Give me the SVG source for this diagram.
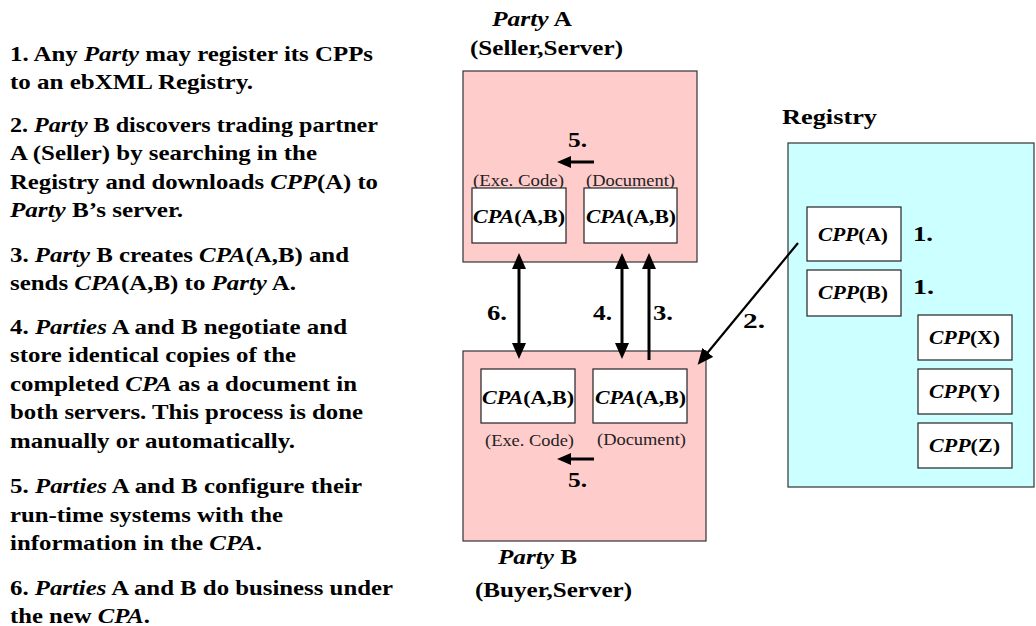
<svg xmlns="http://www.w3.org/2000/svg" width="1036" height="626" viewBox="0 0 1036 626">
<style>
text{font-family:"Liberation Serif","Times New Roman",serif;font-weight:bold;fill:#000}
.i{font-style:italic}
.body{font-size:21px}
.hd{font-size:21px}
.num{font-size:22px}
.cpa{font-size:19px}
.cpp{font-size:18px}
.sm{font-size:16px;font-weight:normal;fill:#222}
.party{fill:#FFCCCC;stroke:#333;stroke-width:1.2}
.reg{fill:#CCFFFF;stroke:#333;stroke-width:1.2}
.box{fill:#fff;stroke:#222;stroke-width:1.2}
.ln{stroke:#000;stroke-width:3;fill:none}
.ln2{stroke:#000;stroke-width:2.2;fill:none}
</style>
<defs>
<marker id="ah" markerUnits="userSpaceOnUse" markerWidth="16" markerHeight="14" refX="6" refY="7" orient="auto-start-reverse" viewBox="0 0 16 14">
<path d="M0,0 L16,7 L0,14 z" fill="#000"/>
</marker>
<marker id="ahs" markerUnits="userSpaceOnUse" markerWidth="14" markerHeight="12" refX="5" refY="6" orient="auto" viewBox="0 0 14 12">
<path d="M0,0 L14,6 L0,12 z" fill="#000"/>
</marker>
</defs>

<g id="steps">
<text class="body" x="10" y="61" textLength="363" lengthAdjust="spacingAndGlyphs">1. Any <tspan class="i">Party</tspan> may register its CPPs</text>
<text class="body" x="10" y="89" textLength="243" lengthAdjust="spacingAndGlyphs">to an ebXML Registry.</text>
<text class="body" x="10" y="132" textLength="368" lengthAdjust="spacingAndGlyphs">2. <tspan class="i">Party</tspan> B discovers trading partner</text>
<text class="body" x="10" y="160" textLength="307" lengthAdjust="spacingAndGlyphs">A (Seller) by searching in the</text>
<text class="body" x="10" y="189" textLength="368" lengthAdjust="spacingAndGlyphs">Registry and downloads <tspan class="i">CPP</tspan>(A) to</text>
<text class="body" x="10" y="217" textLength="173" lengthAdjust="spacingAndGlyphs"><tspan class="i">Party</tspan> B’s server.</text>
<text class="body" x="10" y="262" textLength="339" lengthAdjust="spacingAndGlyphs">3. <tspan class="i">Party</tspan> B creates <tspan class="i">CPA</tspan>(A,B) and</text>
<text class="body" x="10" y="290" textLength="286" lengthAdjust="spacingAndGlyphs">sends <tspan class="i">CPA</tspan>(A,B) to <tspan class="i">Party</tspan> A.</text>
<text class="body" x="10" y="334" textLength="337" lengthAdjust="spacingAndGlyphs">4. <tspan class="i">Parties</tspan> A and B negotiate and</text>
<text class="body" x="10" y="362" textLength="286" lengthAdjust="spacingAndGlyphs">store identical copies of the</text>
<text class="body" x="10" y="391" textLength="347" lengthAdjust="spacingAndGlyphs">completed <tspan class="i">CPA</tspan> as a document in</text>
<text class="body" x="10" y="419" textLength="353" lengthAdjust="spacingAndGlyphs">both servers. This process is done</text>
<text class="body" x="10" y="448" textLength="285" lengthAdjust="spacingAndGlyphs">manually or automatically.</text>
<text class="body" x="10" y="493" textLength="352" lengthAdjust="spacingAndGlyphs">5. <tspan class="i">Parties</tspan> A and B configure their</text>
<text class="body" x="10" y="522" textLength="273" lengthAdjust="spacingAndGlyphs">run-time systems with the</text>
<text class="body" x="10" y="550" textLength="252" lengthAdjust="spacingAndGlyphs">information in the <tspan class="i">CPA</tspan>.</text>
<text class="body" x="10" y="595" textLength="383" lengthAdjust="spacingAndGlyphs">6. <tspan class="i">Parties</tspan> A and B do business under</text>
<text class="body" x="10" y="623" textLength="140" lengthAdjust="spacingAndGlyphs">the new <tspan class="i">CPA</tspan>.</text>
</g>

<g id="partyA">
<text class="hd" x="492" y="26" textLength="80" lengthAdjust="spacingAndGlyphs"><tspan class="i">Party</tspan> A</text>
<text class="hd" x="470" y="55" textLength="153" lengthAdjust="spacingAndGlyphs">(Seller,Server)</text>
<rect class="party" x="463" y="71" width="234" height="191"/>
<text class="sm" x="473" y="186" textLength="91" lengthAdjust="spacingAndGlyphs">(Exe. Code)</text>
<text class="sm" x="586" y="186" textLength="89" lengthAdjust="spacingAndGlyphs">(Document)</text>
<g id="cpaA-exe">
<rect class="box" x="472" y="188" width="94" height="55"/>
<text class="cpa" x="473" y="223" textLength="92" lengthAdjust="spacingAndGlyphs"><tspan class="i">CPA</tspan>(A,B)</text>
</g>
<g id="cpaA-doc">
<rect class="box" x="584" y="188" width="93" height="55"/>
<text class="cpa" x="586" y="223" textLength="90" lengthAdjust="spacingAndGlyphs"><tspan class="i">CPA</tspan>(A,B)</text>
</g>
<text class="num" x="568" y="147" textLength="19" lengthAdjust="spacingAndGlyphs">5.</text>
</g>

<g id="partyB">
<rect class="party" x="463" y="351" width="243" height="190"/>
<g id="cpaB-exe">
<rect class="box" x="481" y="369" width="94" height="54"/>
<text class="cpa" x="482" y="404" textLength="92" lengthAdjust="spacingAndGlyphs"><tspan class="i">CPA</tspan>(A,B)</text>
</g>
<g id="cpaB-doc">
<rect class="box" x="593" y="369" width="94" height="54"/>
<text class="cpa" x="595" y="404" textLength="91" lengthAdjust="spacingAndGlyphs"><tspan class="i">CPA</tspan>(A,B)</text>
</g>
<text class="sm" x="485" y="446" textLength="89" lengthAdjust="spacingAndGlyphs">(Exe. Code)</text>
<text class="sm" x="597" y="445" textLength="89" lengthAdjust="spacingAndGlyphs">(Document)</text>
<text class="num" x="568" y="487" textLength="19" lengthAdjust="spacingAndGlyphs">5.</text>
<text class="hd" x="498" y="564" textLength="79" lengthAdjust="spacingAndGlyphs"><tspan class="i">Party</tspan> B</text>
<text class="hd" x="475" y="597" textLength="157" lengthAdjust="spacingAndGlyphs">(Buyer,Server)</text>
</g>

<g id="registry">
<text class="hd" x="782" y="124" textLength="95" lengthAdjust="spacingAndGlyphs">Registry</text>
<rect class="reg" x="788" y="143" width="246" height="344"/>
<g id="cppA">
<rect class="box" x="807" y="207" width="94" height="54"/>
<text class="cpp" x="818" y="241" textLength="70" lengthAdjust="spacingAndGlyphs"><tspan class="i">CPP</tspan>(A)</text>
</g>
<g id="cppB">
<rect class="box" x="807" y="270" width="94" height="46"/>
<text class="cpp" x="818" y="299" textLength="70" lengthAdjust="spacingAndGlyphs"><tspan class="i">CPP</tspan>(B)</text>
</g>
<g id="cppX">
<rect class="box" x="918" y="315" width="94" height="45"/>
<text class="cpp" x="929" y="344" textLength="71" lengthAdjust="spacingAndGlyphs"><tspan class="i">CPP</tspan>(X)</text>
</g>
<g id="cppY">
<rect class="box" x="918" y="369" width="94" height="45"/>
<text class="cpp" x="929" y="398" textLength="71" lengthAdjust="spacingAndGlyphs"><tspan class="i">CPP</tspan>(Y)</text>
</g>
<g id="cppZ">
<rect class="box" x="918" y="423" width="94" height="45"/>
<text class="cpp" x="929" y="452" textLength="71" lengthAdjust="spacingAndGlyphs"><tspan class="i">CPP</tspan>(Z)</text>
</g>
<text class="num" x="913" y="241" textLength="20" lengthAdjust="spacingAndGlyphs">1.</text>
<text class="num" x="913" y="294" textLength="21" lengthAdjust="spacingAndGlyphs">1.</text>
</g>

<g id="connectors">
<line class="ln" x1="519" y1="263" x2="519" y2="349" marker-start="url(#ah)" marker-end="url(#ah)"/>
<line class="ln" x1="622" y1="263" x2="622" y2="349" marker-start="url(#ah)" marker-end="url(#ah)"/>
<line class="ln" x1="649" y1="360" x2="649" y2="263" marker-end="url(#ah)"/>
<line class="ln2" x1="798" y1="243" x2="704" y2="357" marker-end="url(#ah)"/>
<line class="ln" x1="594" y1="162" x2="566" y2="162" marker-end="url(#ahs)"/>
<line class="ln" x1="594" y1="459" x2="566" y2="459" marker-end="url(#ahs)"/>
<text class="num" x="487" y="320" textLength="20" lengthAdjust="spacingAndGlyphs">6.</text>
<text class="num" x="593" y="320" textLength="19" lengthAdjust="spacingAndGlyphs">4.</text>
<text class="num" x="653" y="320" textLength="20" lengthAdjust="spacingAndGlyphs">3.</text>
<text class="num" x="743" y="328" textLength="22" lengthAdjust="spacingAndGlyphs">2.</text>
</g>
</svg>
